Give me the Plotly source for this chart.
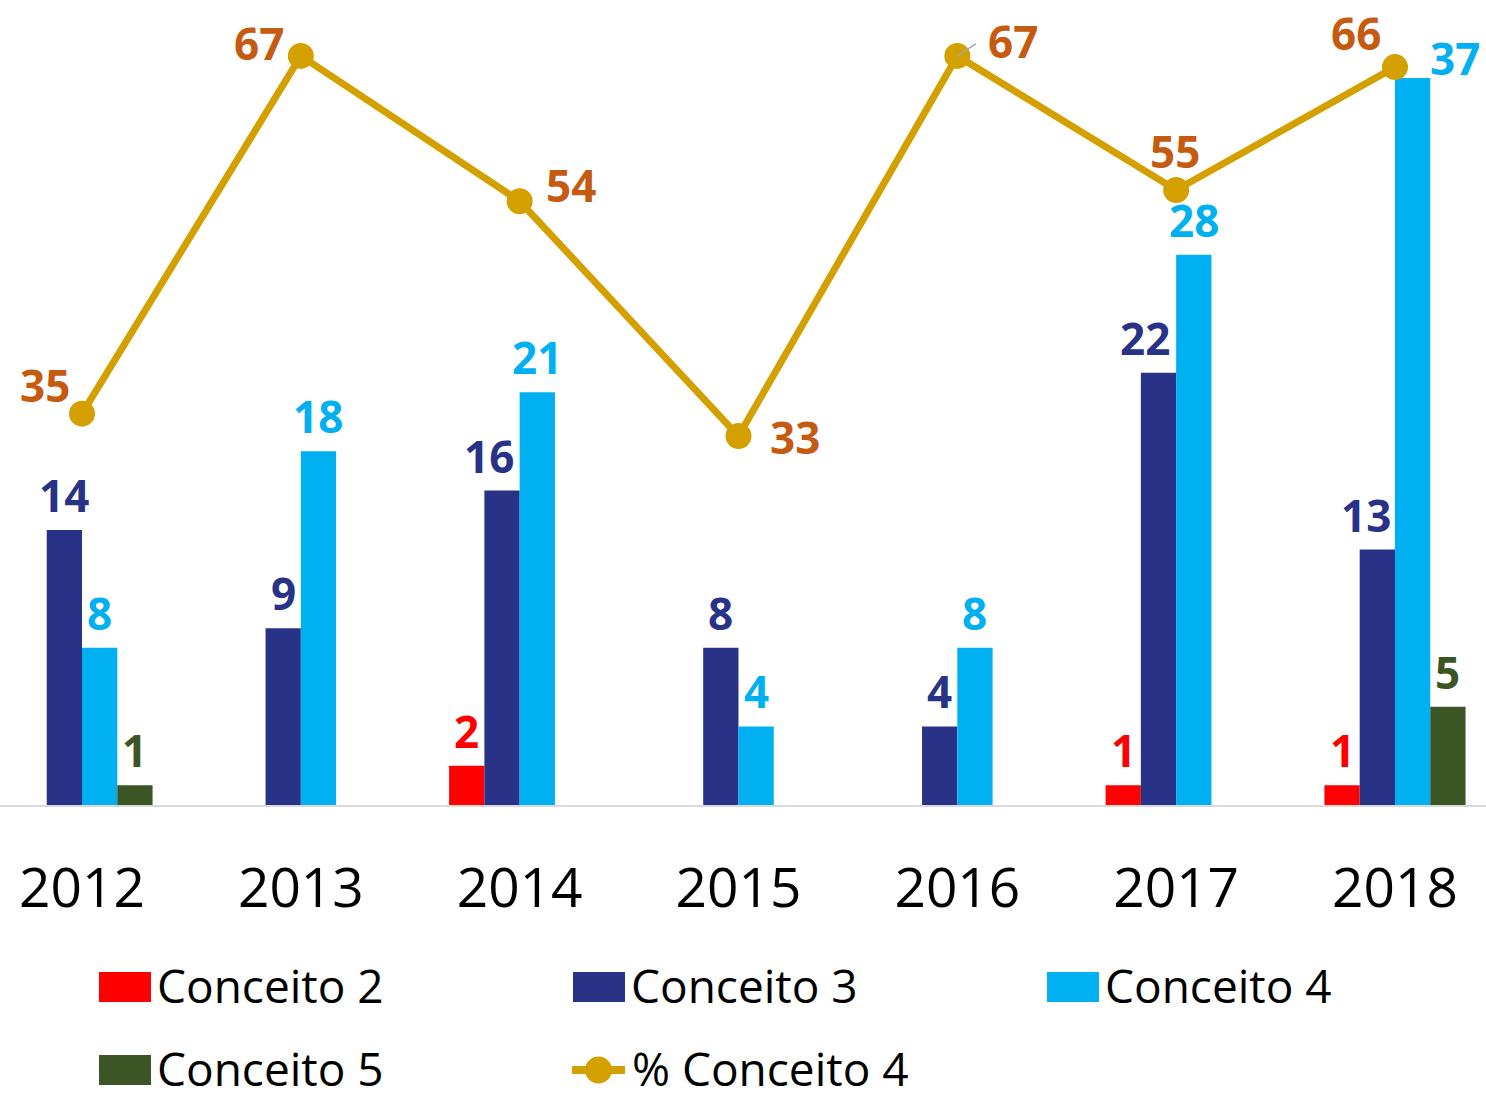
import plotly.graph_objects as go

years = ["2012", "2013", "2014", "2015", "2016", "2017", "2018"]
conceito2 = [None, None, 2, None, None, 1, 1]
conceito3 = [14, 9, 16, 8, 4, 22, 13]
conceito4 = [8, 18, 21, 4, 8, 28, 37]
conceito5 = [1, None, None, None, None, None, 5]
pct_conceito4 = [35, 67, 54, 33, 67, 55, 66]

names = ["Conceito 2", "Conceito 3", "Conceito 4", "Conceito 5"]
colors = ["#FF0000", "#283388", "#00B0F0", "#3B5524"]
line_color = "#D4A000"
label_color = "#C55A11"
FONT = "Open Sans"

W, H = 1486, 1098
TOP, BASE = 19, 805
PH = BASE - TOP
SCALE = 218.83          # pixels per category
BARGAP = 0.355
BAR_PX = SCALE * (1 - BARGAP) / 4

def px_x(px):
    return px / W

def px_y(py):
    return (BASE - py) / PH

xs = list(range(len(years)))
fig = go.Figure()
annotations = []

series = [conceito2, conceito3, conceito4, conceito5]
# label placement tweaks (pixels) for labels moved off neighbouring bars, as in the reference
label_nudge = {(1, 2): (-13, 0), (1, 5): (-14, 0), (1, 6): (-11, 0), (2, 6): (42, -15)}

for k, (name, vals, col) in enumerate(zip(names, series, colors)):
    fig.add_trace(go.Bar(
        x=xs, y=vals, name=name, marker=dict(color=col, line=dict(width=0)),
        showlegend=False,
    ))
    slot = (k - 1.5) * BAR_PX
    for i, v in enumerate(vals):
        if v is None:
            continue
        dx, dy = label_nudge.get((k, i), (0, 0))
        annotations.append(dict(
            x=xs[i], y=v, xref="x", yref="y", text=str(v), showarrow=False,
            xshift=slot + dx, yshift=35 + dy, xanchor="center", yanchor="middle", height=44,
            font=dict(family=FONT, size=44, color=col, weight="bold"),
        ))

fig.add_trace(go.Scatter(
    x=xs, y=pct_conceito4, yaxis="y2", mode="lines+markers", name="% Conceito 4",
    line=dict(color=line_color, width=7), marker=dict(size=26, color=line_color),
    cliponaxis=False, showlegend=False,
))

# line labels (offsets in pixels relative to each point)
offsets = [(-37, 29), (-42, 13), (51, 16), (57, -1), (56, 15), (-1, 39), (-39, 34)]
for x, v, (dx, dy) in zip(xs, pct_conceito4, offsets):
    annotations.append(dict(
        x=x, y=v, xref="x", yref="y2", text=str(v), showarrow=False,
        xshift=dx, yshift=dy, xanchor="center", yanchor="middle", height=44,
        font=dict(family=FONT, size=44, color=label_color, weight="bold"),
    ))

# small leader line of the 2016 label
annotations.append(dict(
    x=xs[4], y=pct_conceito4[4], xref="x", yref="y2", ax=20, ay=-13, axref="pixel", ayref="pixel",
    text="", showarrow=True, arrowhead=0, arrowwidth=1.5, arrowcolor="#A6A6A6", standoff=0,
))

# manual legend (pixel positions)
shapes = []
legend_items = [
    ("rect", colors[0], "Conceito 2", 99, 987),
    ("rect", colors[1], "Conceito 3", 573, 987),
    ("rect", colors[2], "Conceito 4", 1047, 987),
    ("rect", colors[3], "Conceito 5", 99, 1070),
    ("line", line_color, "% Conceito 4", 569, 1070),
]
for kind, col, label, lx, ly in legend_items:
    if kind == "rect":
        shapes.append(dict(type="rect", xref="paper", yref="paper",
                           x0=px_x(lx), x1=px_x(lx + 52), y0=px_y(ly - 15), y1=px_y(ly + 15),
                           fillcolor=col, line=dict(width=0)))
        tx = lx + 56
    else:
        shapes.append(dict(type="line", xref="paper", yref="paper",
                           x0=px_x(lx + 3), x1=px_x(lx + 56), y0=px_y(ly), y1=px_y(ly),
                           line=dict(color=col, width=8)))
        shapes.append(dict(type="circle", xref="paper", yref="paper",
                           x0=px_x(lx + 16), x1=px_x(lx + 43), y0=px_y(ly - 13.5), y1=px_y(ly + 13.5),
                           fillcolor=col, line=dict(width=0)))
        tx = lx + 61
    annotations.append(dict(
        x=px_x(tx), y=px_y(ly - 2), xref="paper", yref="paper", text=label, showarrow=False,
        xanchor="left", yanchor="middle", height=38,
        font=dict(family=FONT, size=46, color="#000000"),
    ))

a = -82 / SCALE
b = a + W / SCALE

fig.update_layout(
    width=W, height=H, autosize=False,
    margin=dict(l=0, r=0, t=TOP, b=H - BASE, pad=0),
    paper_bgcolor="white", plot_bgcolor="white",
    barmode="group", bargap=BARGAP, bargroupgap=0,
    font=dict(family=FONT),
    xaxis=dict(range=[a, b], tickvals=xs, ticktext=years, showgrid=False, zeroline=False,
               showline=True, linecolor="#D9D9D9", linewidth=2, ticks="",
               tickfont=dict(family=FONT, size=55, color="#000000"),
               ticklabelstandoff=34, automargin=False),
    yaxis=dict(range=[0, 40], showgrid=False, zeroline=False, showticklabels=False,
               showline=False, automargin=False),
    yaxis2=dict(range=[0, 70.3], overlaying="y", side="right", showgrid=False, zeroline=False,
                showticklabels=False, showline=False, automargin=False),
    shapes=shapes, annotations=annotations,
)

fig.write_html("out.html", config={"displayModeBar": False},
               post_script="document.body.style.margin='0px';document.body.style.overflow='hidden';")
